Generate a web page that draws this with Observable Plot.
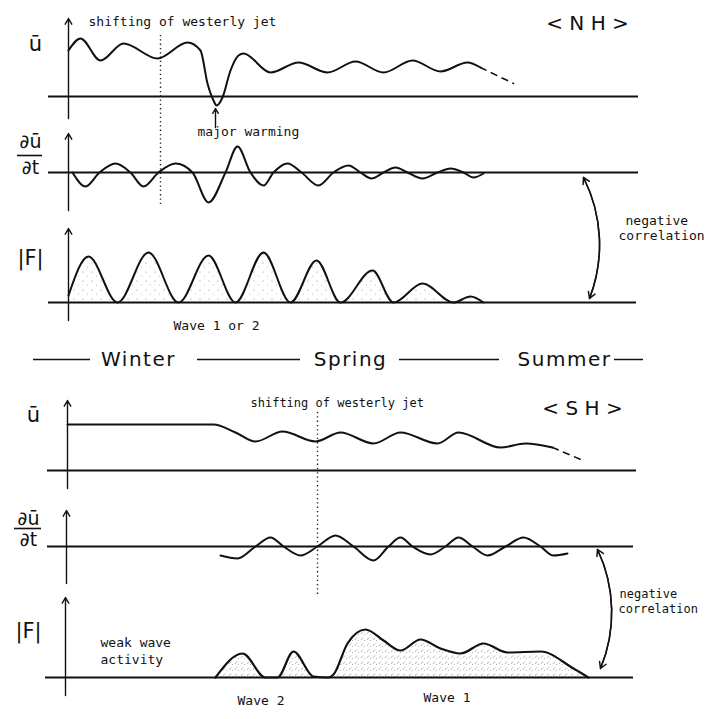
<!DOCTYPE html>
<html><head><meta charset="utf-8">
<script src="https://cdn.jsdelivr.net/npm/d3@7"></script>
<script src="https://cdn.jsdelivr.net/npm/@observablehq/plot@0.6"></script>
<style>
body{margin:0;background:#fff}
.season text{letter-spacing:1.5px}
</style></head><body><div id="chart"></div>
<script>
// Schematic time axis t (0 = vertical axis); v = value above each panel's zero line
const nhUbar   = [[1,46],[13,58],[33,36],[56,53],[90,38],[120,54],[133,46],[140,13],[146,-4],[149,-9],[155,-1],[163,26],[171,41],[176,43],[203,24],[231,34],[260,24],[288,35],[316,24],[345,36],[373,25],[400,34],[413,29]];
const nhUbarExt = [[413,29],[446,13]];
const nhDudt   = [[5,0],[18,-14],[32,0],[48,9],[63,0],[76,-14],[91,0],[108,9],[125,0],[141,-30],[158,0],[170,26],[183,0],[196,-13],[206,0],[220,9],[234,0],[251,-13],[266,0],[281,7],[293,0],[304,-6],[316,0],[328,5],[340,0],[355,-6],[370,0],[383,4],[396,0],[406,-5],[416,-1]];
const nhF      = [[1,7],[21,46],[50,0],[81,50],[111,0],[141,47],[168,0],[196,50],[223,0],[249,42],[273,0],[305,32],[326,0],[355,19],[386,0],[403,6],[416,0]];
const shUbar   = [[0,46],[146,46],[168,38],[188,29],[215,39],[248,29],[273,38],[306,27],[333,38],[370,27],[391,38],[433,23],[458,27],[485,23]];
const shUbarExt = [[485,23],[518,9]];
const shDudt   = [[153,-9],[170,-12],[188,0],[203,9],[216,0],[233,-9],[250,0],[268,11],[286,0],[306,-14],[321,0],[333,9],[345,0],[363,-8],[378,0],[391,9],[405,0],[420,-9],[438,0],[456,9],[473,0],[486,-9],[500,-7]];
const shF      = [[148,0],[175,24],[198,0],[210,0],[226,26],[246,1],[261,0],[266,3],[280,34],[298,48],[316,37],[333,27],[353,38],[373,29],[393,24],[416,34],[440,25],[473,26],[506,9],[521,0]];

// panel zero lines (layout rows)
const panelBase = {nhU:96, nhD:172, nhF:302, shU:470, shD:546, shF:677};
const baseLines = [
  {y:96,x1:-19,x2:571},{y:172,x1:-19,x2:571},{y:302,x1:-19,x2:569},
  {y:470,x1:-20,x2:569},{y:546,x1:-20,x2:566},{y:677,x1:-22,x2:566}
];
const axisArrows = [
  {t:1,y1:118,y2:18},{t:1,y1:210,y2:133},{t:1,y1:320,y2:228},
  {t:0,y1:488,y2:400},{t:-1,y1:583,y2:510},{t:-2,y1:695,y2:597}
];
const jetShift = [{t:93,y1:35,y2:205},{t:250,y1:412,y2:597}];
const warmingArrow = [{t:148,y1:127,y2:108}];
const corrArcs = [{x1:516,y1:177,x2:522,y2:298},{x1:530,y1:549,x2:533,y2:668}];

const monoLabels = [
  {t:21,y:21,s:"shifting of westerly jet",size:13},
  {t:130,y:131,s:"major warming",size:13},
  {t:106,y:325,s:"Wave 1 or 2",size:13},
  {t:558,y:220,s:"negative",size:13},
  {t:551,y:235,s:"correlation",size:13},
  {t:183,y:403,s:"shifting of westerly jet",size:12},
  {t:33,y:642,s:"weak wave",size:13},
  {t:33,y:659,s:"activity",size:13},
  {t:170,y:700,s:"Wave 2",size:13},
  {t:356,y:697,s:"Wave 1",size:13},
  {t:552,y:594,s:"negative",size:12},
  {t:551,y:609,s:"correlation",size:12}
];
const symLabels = [
  {t:-32,y:44,s:"ū",size:21},
  {t:-37,y:141,s:"∂ū",size:19},
  {t:-37,y:167,s:"∂t",size:19},
  {t:-37,y:258,s:"|F|",size:21},
  {t:-34,y:415,s:"ū",size:21},
  {t:-39,y:518,s:"∂ū",size:19},
  {t:-39,y:539,s:"∂t",size:19},
  {t:-39,y:631,s:"|F|",size:21},
  {t:520,y:23,s:"< N H >",size:20},
  {t:515,y:408,s:"< S H >",size:20}
];
const fracBars = [{y:155,x1:-50,x2:-25},{y:528,x1:-53,x2:-26}];
const seasons = [{t:71,s:"Winter"},{t:283,s:"Spring"},{t:497,s:"Summer"}];
const seasonDashes = [{x1:-34,x2:23},{x1:130,x2:233},{x1:332,x2:432},{x1:547,x2:576}];
const seasonRow = 359;

const rows = (arr, base) => arr.map(([t, v]) => ({t, y: base - v, base}));
const line = (arr, base, extra={}) => Plot.line(rows(arr, base), {x:"t", y:"y", curve:"monotone-x", stroke:"#111", strokeWidth:2, ...extra});

const plot = Plot.plot({
  width:716, height:719, margin:0,
  x:{domain:[-67,649], axis:null},
  y:{domain:[0,719], range:[0,719], axis:null},
  style:{fontFamily:"DejaVu Sans", background:"white", color:"#111"},
  marks:[
    Plot.areaY(rows(nhF, panelBase.nhF), {x:"t", y1:"base", y2:"y", curve:"monotone-x", fill:"url(#stipA)"}),
    Plot.areaY(rows(shF, panelBase.shF), {x:"t", y1:"base", y2:"y", curve:"monotone-x", fill:"url(#stipB)"}),
    Plot.ruleY(baseLines, {y:"y", x1:"x1", x2:"x2", stroke:"#111", strokeWidth:2}),
    Plot.ruleX(jetShift, {x:"t", y1:"y1", y2:"y2", stroke:"#222", strokeWidth:1.4, strokeDasharray:"1.3,3"}),
    Plot.arrow(axisArrows, {x1:"t", x2:"t", y1:"y1", y2:"y2", stroke:"#111", strokeWidth:1.4, headLength:7}),
    Plot.arrow(warmingArrow, {x1:"t", x2:"t", y1:"y1", y2:"y2", stroke:"#111", strokeWidth:1.4, headLength:6}),
    Plot.arrow(corrArcs, {x1:"x1", y1:"y1", x2:"x2", y2:"y2", bend:24, stroke:"#111", strokeWidth:1.5, headLength:7}),
    Plot.arrow(corrArcs, {x1:"x2", y1:"y2", x2:"x1", y2:"y1", bend:-24, stroke:"#111", strokeWidth:1.5, headLength:7}),
    line(nhUbar, panelBase.nhU),
    line(nhUbarExt, panelBase.nhU, {curve:"linear", strokeWidth:1.6, strokeDasharray:"6,6"}),
    line(nhDudt, panelBase.nhD),
    line(nhF, panelBase.nhF),
    line(shUbar, panelBase.shU),
    line(shUbarExt, panelBase.shU, {curve:"linear", strokeWidth:1.6, strokeDasharray:"6,6"}),
    line(shDudt, panelBase.shD),
    line(shF, panelBase.shF, {strokeWidth:2.2}),
    Plot.text(monoLabels, {x:"t", y:"y", text:"s", fontSize:"size", textAnchor:"start", fontFamily:"DejaVu Sans Mono", fill:"#111"}),
    Plot.text(symLabels, {x:"t", y:"y", text:"s", fontSize:"size", textAnchor:"middle", fontFamily:"DejaVu Sans", fill:"#111"}),
    Plot.ruleY(fracBars, {y:"y", x1:"x1", x2:"x2", stroke:"#111", strokeWidth:1.6}),
    Plot.ruleY(seasonDashes, {y:seasonRow, x1:"x1", x2:"x2", stroke:"#111", strokeWidth:1.5}),
    Plot.text(seasons, {x:"t", y:seasonRow, text:"s", fontSize:20, textAnchor:"middle", fontFamily:"DejaVu Sans", fill:"#111", className:"season"})
  ]
});

const svg = d3.select(plot);
const defs = svg.insert("defs", ":first-child");
const pa = defs.append("pattern").attr("id","stipA").attr("patternUnits","userSpaceOnUse").attr("width",9).attr("height",9);
pa.append("circle").attr("cx",2).attr("cy",2).attr("r",0.6).attr("fill","#888");
pa.append("circle").attr("cx",6.5).attr("cy",6).attr("r",0.5).attr("fill","#aaa");
const pb = defs.append("pattern").attr("id","stipB").attr("patternUnits","userSpaceOnUse").attr("width",6).attr("height",6);
pb.append("line").attr("x1",1).attr("y1",4).attr("x2",3).attr("y2",1.5).attr("stroke","#999").attr("stroke-width",0.7);
pb.append("circle").attr("cx",4.5).attr("cy",4.5).attr("r",0.5).attr("fill","#999");

document.getElementById("chart").appendChild(plot);
</script></body></html>
